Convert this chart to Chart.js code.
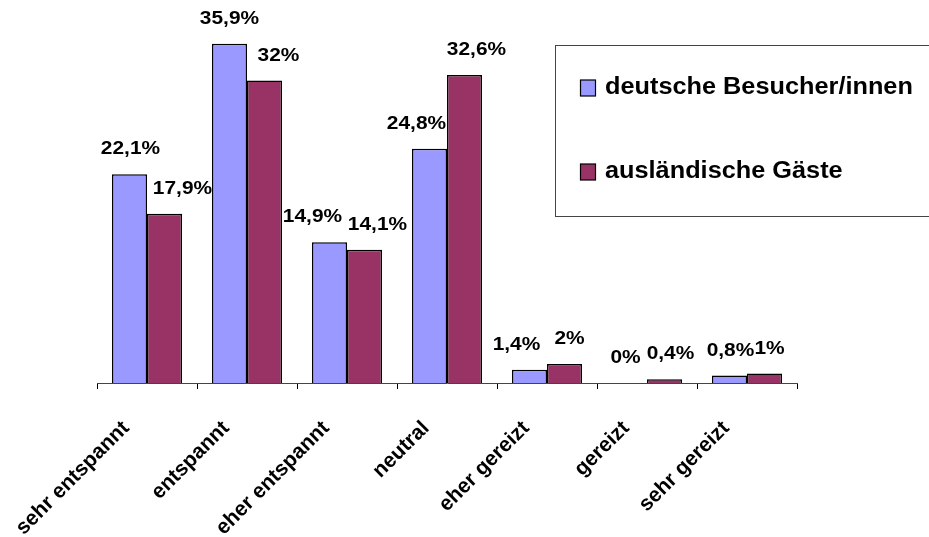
<!DOCTYPE html>
<html>
<head>
<meta charset="utf-8">
<script src="https://cdn.jsdelivr.net/npm/chart.js@4.4.1/dist/chart.umd.min.js"></script>
<style>
  html, body { margin: 0; padding: 0; background: #ffffff; }
  #wrap { width: 929px; height: 537px; position: relative; }
</style>
</head>
<body>
<div id="wrap"><canvas id="c" width="929" height="537"></canvas></div>
<script>
const categories = ['sehr entspannt', 'entspannt', 'eher entspannt', 'neutral', 'eher gereizt', 'gereizt', 'sehr gereizt'];
const seriesNames = ['deutsche Besucher/innen', 'ausländische Gäste'];
const deutsche = [22.1, 35.9, 14.9, 24.8, 1.4, 0, 0.8];
const auslaendische = [17.9, 32, 14.1, 32.6, 2, 0.4, 1];

const FONT = '"Liberation Sans", Arial, sans-serif';
const colors = ['#9999FF', '#993366'];
// small horizontal nudges for the value labels (layout only)
const labelNudge = [
  [1, 0, -17, -13, -13, -4, 1],
  [18, 14, 13, 12, 5, 6, 5]
];

function fmt(v) { return String(v).replace('.', ',') + '%'; }

const valueLabels = {
  id: 'valueLabels',
  afterDatasetsDraw(chart) {
    const ctx = chart.ctx;
    ctx.save();
    ctx.font = 'bold 19px ' + FONT;
    ctx.fillStyle = '#000';
    ctx.textAlign = 'center';
    ctx.textBaseline = 'middle';
    chart.data.datasets.forEach((ds, di) => {
      const meta = chart.getDatasetMeta(di);
      meta.data.forEach((bar, i) => {
        const x = bar.x + labelNudge[di][i];
        const y = bar.y - 25;
        ctx.save();
        ctx.translate(x, y);
        ctx.scale(1.1, 1);
        ctx.fillText(fmt(ds.data[i]), 0, 0);
        ctx.restore();
      });
    });
    ctx.restore();
  }
};

const legendBox = {
  id: 'legendBox',
  afterDraw(chart) {
    const ctx = chart.ctx;
    ctx.save();
    ctx.strokeStyle = '#444';
    ctx.lineWidth = 1;
    ctx.strokeRect(555.5, 45.5, 400, 171);
    const rows = [94, 178];
    seriesNames.forEach((name, i) => {
      const base = rows[i];
      ctx.fillStyle = colors[i];
      ctx.fillRect(580.5, base - 14, 15, 16);
      ctx.strokeStyle = '#000';
      ctx.lineWidth = 1.2;
      ctx.strokeRect(580.5, base - 14, 15, 16);
      ctx.fillStyle = '#000';
      ctx.font = 'bold 23px ' + FONT;
      ctx.textAlign = 'left';
      ctx.textBaseline = 'alphabetic';
      ctx.save();
      ctx.translate(605, base);
      ctx.scale(1.1, 1);
      ctx.fillText(name, 0, 0);
      ctx.restore();
    });
    ctx.restore();
  }
};

new Chart(document.getElementById('c'), {
  type: 'bar',
  data: {
    labels: categories,
    datasets: [
      { label: seriesNames[0], data: deutsche, backgroundColor: colors[0], borderColor: '#000', borderWidth: 1.5, borderSkipped: 'bottom', categoryPercentage: 0.7, barPercentage: 1.0 },
      { label: seriesNames[1], data: auslaendische, backgroundColor: colors[1], borderColor: '#000', borderWidth: 1.5, borderSkipped: 'bottom', categoryPercentage: 0.7, barPercentage: 1.0 }
    ]
  },
  options: {
    responsive: false,
    animation: false,
    layout: { padding: { left: 97, right: 132, top: 5, bottom: 0 } },
    plugins: { legend: { display: false }, tooltip: { enabled: false } },
    scales: {
      y: { display: false, min: 0, max: 40 },
      x: {
        afterFit(scale) { scale.height = 154; },
        border: { display: true, color: '#444', width: 1 },
        grid: { display: true, offset: true, drawOnChartArea: false, drawTicks: true, tickLength: 6, color: '#000' },
        ticks: {
          autoSkip: false, minRotation: 45, maxRotation: 45,
          padding: 27, labelOffset: -21,
          color: '#000',
          font: { family: FONT, size: 21, weight: 'bold' }
        }
      }
    }
  },
  plugins: [valueLabels, legendBox]
});
</script>
</body>
</html>
